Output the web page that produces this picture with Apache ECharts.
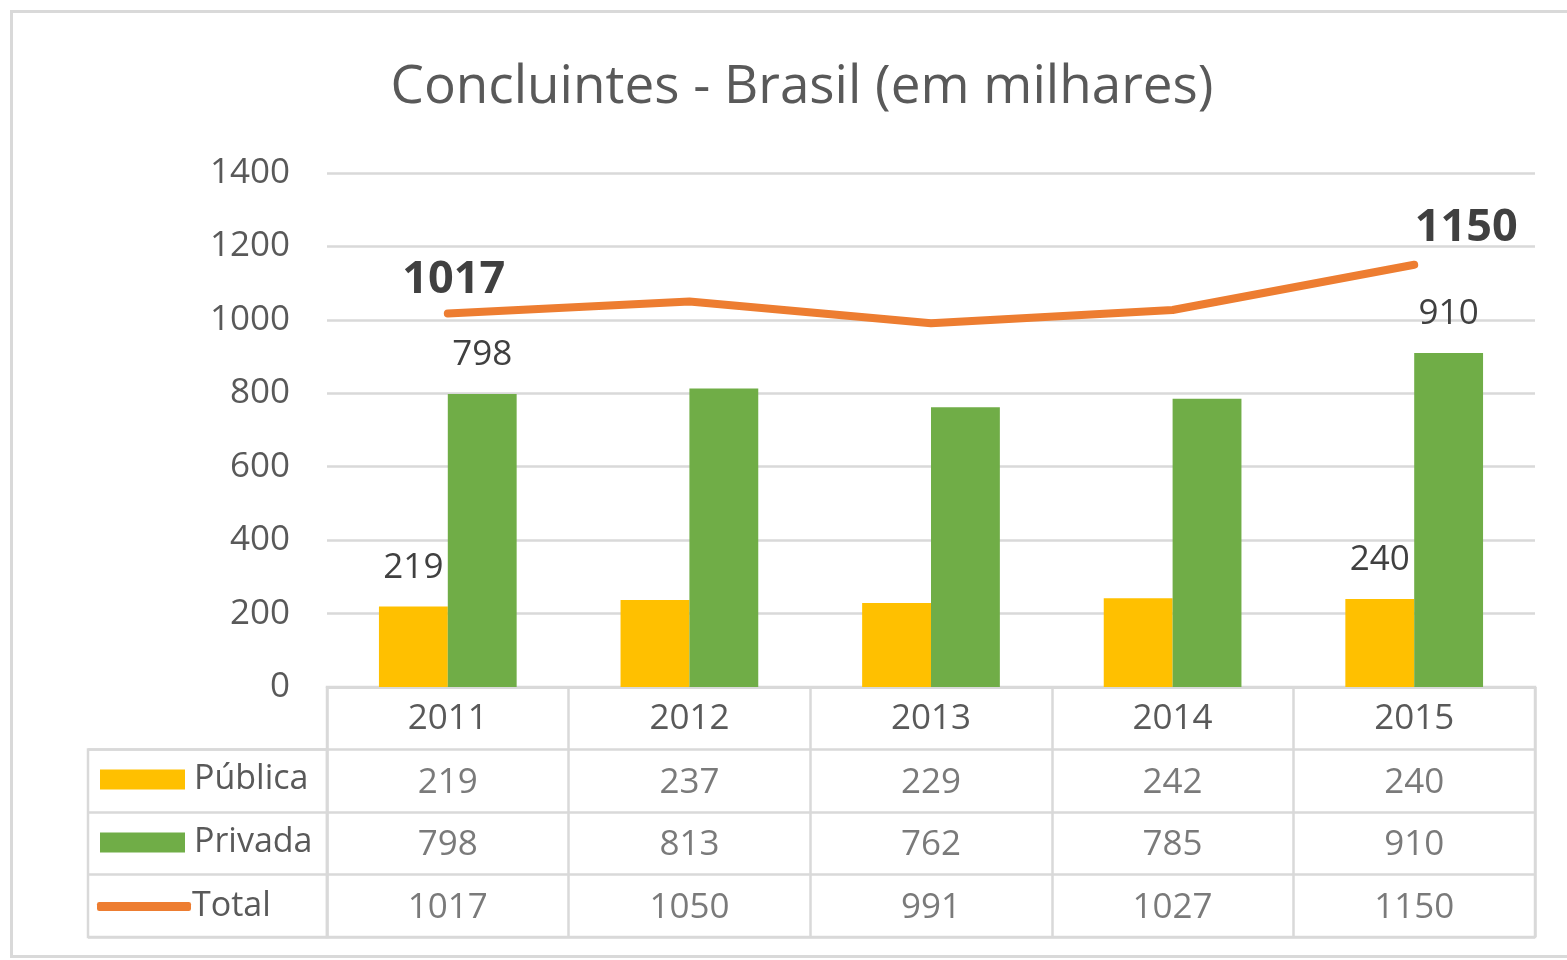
<!DOCTYPE html>
<html>
<head>
<meta charset="utf-8">
<script src="https://cdn.jsdelivr.net/npm/echarts@6/dist/echarts.min.js"></script>
<style>html,body{margin:0;padding:0;background:#fff}#c{width:1567px;height:960px}</style>
</head>
<body>
<div id="c"></div>
<script>
const years = ['2011', '2012', '2013', '2014', '2015'];
const publica = [219, 237, 229, 242, 240];
const privada = [798, 813, 762, 785, 910];
const total = [1017, 1050, 991, 1027, 1150];
const yTicks = [0, 200, 400, 600, 800, 1000, 1200, 1400];
const seriesNames = ['Pública', 'Privada', 'Total'];
const labelledIdx = [0, 4];

const FONT = 'Open Sans';
const GRAY = '#595959';
const DARK = '#404040';
const LINEC = '#d9d9d9';
const FS = 35;

const chart = echarts.init(document.getElementById('c'));

function tableCells(values, row) {
  return values.map((v, i) => ({ value: [i, row], label: { formatter: String(v) } }));
}

const option = {
  animation: false,
  backgroundColor: '#fff',
  textStyle: { fontFamily: FONT },
  title: {
    text: 'Concluintes - Brasil (em milhares)',
    left: 797, textAlign: 'center', top: 56,
    textStyle: { fontFamily: FONT, fontSize: 53, fontWeight: 'normal', color: GRAY }
  },
  graphic: [{
    type: 'rect', shape: { x: 11.5, y: 11.5, width: 1600, height: 945 },
    style: { fill: 'none', stroke: LINEC, lineWidth: 3 }, silent: true, z: -10
  }],
  legend: [{
    data: [seriesNames[0], seriesNames[1]],
    orient: 'vertical', left: 95, top: 755,
    itemWidth: 85, itemHeight: 20, itemGap: 24,
    icon: 'rect',
    textStyle: { fontFamily: FONT, fontSize: 34, color: GRAY, lineHeight: 36, padding: [3, 0, 0, 4] }
  }, {
    data: [seriesNames[2]],
    orient: 'vertical', left: 92, top: 882,
    itemWidth: 94, itemHeight: 9,
    icon: 'roundRect',
    textStyle: { fontFamily: FONT, fontSize: 34, color: GRAY, lineHeight: 36, padding: [3, 0, 0, -4] }
  }],
  grid: [
    { left: 327, right: 32, top: 173, bottom: 273 },
    { left: 327, right: 32, top: 687, height: 250, show: true, borderColor: LINEC, borderWidth: 2.5, backgroundColor: 'transparent' },
    { left: 88, width: 239, top: 749.5, height: 187.5, show: true, borderColor: LINEC, borderWidth: 2.5, backgroundColor: 'transparent' }
  ],
  xAxis: [{
    type: 'category', data: years, gridIndex: 0,
    axisLine: { show: true, lineStyle: { color: LINEC, width: 2.5 } },
    axisTick: { show: false },
    axisLabel: { fontFamily: FONT, fontSize: FS, color: GRAY, margin: 14, lineHeight: 36 }
  }, {
    type: 'category', data: years, gridIndex: 1,
    axisLine: { show: false }, axisTick: { show: false }, axisLabel: { show: false },
    splitLine: { show: true, lineStyle: { color: LINEC, width: 2.5 } }
  }, {
    type: 'value', gridIndex: 2, min: 0, max: 1, show: false
  }],
  yAxis: [{
    type: 'value', gridIndex: 0, min: yTicks[0], max: yTicks[yTicks.length - 1], interval: 200,
    axisLine: { show: false }, axisTick: { show: false },
    axisLabel: { fontFamily: FONT, fontSize: FS, color: GRAY, margin: 37, formatter: v => String(v) },
    splitLine: { lineStyle: { color: LINEC, width: 2.5 } }
  }, {
    type: 'value', gridIndex: 1, min: 0, max: 4, interval: 1, inverse: true,
    axisLine: { show: false }, axisTick: { show: false }, axisLabel: { show: false },
    splitLine: { show: true, lineStyle: { color: LINEC, width: 2.5 } }
  }, {
    type: 'value', gridIndex: 2, min: 0, max: 3, interval: 1, inverse: true,
    axisLine: { show: false }, axisTick: { show: false }, axisLabel: { show: false },
    splitLine: { show: true, lineStyle: { color: LINEC, width: 2.5 } }
  }],
  series: [{
    name: seriesNames[0], type: 'bar', data: publica.map((v, i) => ({
      value: v, label: { show: labelledIdx.includes(i) }
    })),
    barGap: '0%', barCategoryGap: '43%',
    itemStyle: { color: '#FFC000' },
    label: { position: 'top', distance: 21, fontFamily: FONT, fontSize: FS, color: DARK }
  }, {
    name: seriesNames[1], type: 'bar', data: privada.map((v, i) => ({
      value: v, label: { show: labelledIdx.includes(i) }
    })),
    barGap: '0%', barCategoryGap: '43%',
    itemStyle: { color: '#70AD47' },
    label: { position: 'top', distance: 21, fontFamily: FONT, fontSize: FS, color: DARK }
  }, {
    name: seriesNames[2], type: 'line', data: total.map((v, i) => ({
      value: v,
      label: i === 0 ? { show: true, offset: [6, 0] } : (i === 4 ? { show: true, offset: [52, -4] } : { show: false })
    })),
    symbol: 'circle', symbolSize: 1, showSymbol: true, smooth: false,
    lineStyle: { color: '#ED7D31', width: 8, cap: 'round', join: 'round' },
    itemStyle: { color: '#ED7D31' },
    label: { position: 'top', distance: 10, fontFamily: FONT, fontSize: 45, fontWeight: 'bold', color: DARK },
    z: 5
  }, {
    name: 'tab-pub', type: 'scatter', xAxisIndex: 1, yAxisIndex: 1, symbolSize: 0,
    data: tableCells(publica, 1.5), silent: true,
    label: { show: true, position: 'inside', fontFamily: FONT, fontSize: FS, color: GRAY, offset: [0, 2] }
  }, {
    name: 'tab-priv', type: 'scatter', xAxisIndex: 1, yAxisIndex: 1, symbolSize: 0,
    data: tableCells(privada, 2.5), silent: true,
    label: { show: true, position: 'inside', fontFamily: FONT, fontSize: FS, color: GRAY, offset: [0, 2] }
  }, {
    name: 'tab-tot', type: 'scatter', xAxisIndex: 1, yAxisIndex: 1, symbolSize: 0,
    data: tableCells(total, 3.5), silent: true,
    label: { show: true, position: 'inside', fontFamily: FONT, fontSize: FS, color: GRAY, offset: [0, 2] }
  }]
};
chart.setOption(option);
</script>
</body>
</html>
